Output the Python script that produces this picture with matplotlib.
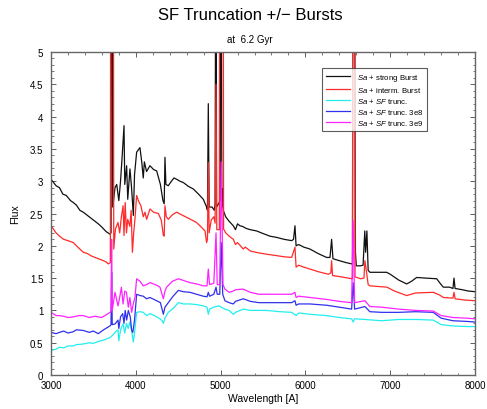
import numpy as np
import matplotlib
matplotlib.use('Agg')
import matplotlib.pyplot as plt
from matplotlib.ticker import MultipleLocator

plt.rcParams['font.family'] = ['Liberation Sans', 'DejaVu Sans']
plt.rcParams['mathtext.fontset'] = 'custom'
plt.rcParams['mathtext.it'] = 'Liberation Sans:italic'
plt.rcParams['mathtext.rm'] = 'Liberation Sans'

# Sa + strong Burst
black_wave = [3000, 3060, 3100, 3140, 3180, 3230, 3263, 3300, 3340, 3381, 3420, 3460, 3500, 3558, 3600,
              3650, 3696, 3708, 3712, 3722, 3728, 3755, 3775, 3800, 3820, 3840, 3861, 3870, 3892, 3905,
              3931, 3950, 3971, 3985, 4010, 4049, 4070, 4088, 4101, 4127, 4167, 4210, 4246, 4290, 4320,
              4335, 4344, 4355, 4383, 4420, 4450, 4482, 4520, 4560, 4620, 4678, 4740, 4796, 4835, 4845,
              4855, 4865, 4900, 4925, 4935, 4946, 4952, 4975, 4995, 5005, 5015, 5024, 5031, 5060, 5100,
              5150, 5175, 5200, 5228, 5260, 5300, 5350, 5425, 5500, 5580, 5661, 5750, 5838, 5860, 5877,
              5890, 5920, 5980, 6054, 6150, 6250, 6290, 6309, 6325, 6400, 6480, 6545, 6555, 6563, 6575,
              6590, 6600, 6650, 6680, 6700, 6710, 6725, 6740, 6761, 6850, 6958, 7000, 7100, 7194, 7250,
              7312, 7420, 7548, 7600, 7626, 7700, 7740, 7752, 7765, 7850, 7920, 8000]
black_flux = [3.03, 2.93, 2.90, 2.80, 2.78, 2.70, 2.67, 2.63, 2.55, 2.52, 2.48, 2.44, 2.40, 2.34, 2.29,
              2.22, 2.18, 2.20, 9.0, 9.0, 2.60, 2.90, 2.95, 2.70, 3.00, 3.40, 3.86, 2.95, 3.24, 2.72,
              3.19, 2.90, 2.47, 3.10, 3.45, 3.52, 3.30, 3.05, 3.30, 3.15, 3.24, 3.18, 3.16, 2.95, 2.70,
              2.65, 3.37, 2.95, 2.93, 3.00, 3.05, 3.03, 3.00, 2.98, 2.92, 2.88, 2.80, 2.72, 2.60, 2.55,
              4.20, 2.60, 2.60, 2.55, 2.65, 9.0, 2.60, 2.65, 2.70, 9.0, 2.60, 2.88, 2.55, 2.45, 2.38,
              2.31, 2.25, 2.34, 2.31, 2.30, 2.27, 2.25, 2.23, 2.19, 2.15, 2.13, 2.10, 2.08, 2.10, 2.31,
              2.00, 2.02, 1.98, 1.95, 1.88, 1.82, 1.82, 2.10, 1.80, 1.77, 1.74, 1.72, 1.72, 9.0, 9.0,
              1.90, 1.69, 1.69, 1.70, 2.23, 1.90, 2.23, 1.62, 1.59, 1.59, 1.59, 1.56, 1.47, 1.41, 1.45,
              1.51, 1.50, 1.49, 1.40, 1.36, 1.36, 1.34, 1.50, 1.34, 1.32, 1.30, 1.29]

# Sa + interm. Burst
red_wave = [3000, 3060, 3100, 3150, 3200, 3263, 3300, 3340, 3381, 3430, 3480, 3520, 3558, 3600, 3650,
            3676, 3700, 3705, 3735, 3740, 3760, 3790, 3810, 3830, 3850, 3861, 3875, 3890, 3905, 3930,
            3945, 3960, 3975, 3990, 4010, 4030, 4060, 4088, 4108, 4128, 4167, 4210, 4266, 4300, 4325,
            4335, 4344, 4360, 4383, 4430, 4482, 4540, 4600, 4660, 4717, 4780, 4816, 4835, 4845, 4855,
            4865, 4890, 4920, 4935, 4946, 4955, 4985, 4990, 5030, 5035, 5060, 5100, 5150, 5175, 5200,
            5267, 5290, 5350, 5450, 5543, 5650, 5750, 5838, 5877, 5890, 5920, 5980, 6054, 6150, 6270,
            6300, 6309, 6320, 6420, 6545, 6555, 6560, 6580, 6585, 6650, 6690, 6702, 6720, 6740, 6761,
            6860, 6960, 7050, 7194, 7300, 7508, 7580, 7626, 7740, 7752, 7765, 7880, 8000]
red_flux = [2.31, 2.20, 2.15, 2.10, 2.08, 2.05, 2.00, 1.95, 1.90, 1.88, 1.84, 1.82, 1.80, 1.78, 1.75,
            1.72, 1.74, 9.0, 9.0, 1.95, 2.26, 2.36, 2.20, 2.45, 2.62, 2.16, 2.67, 2.20, 2.41, 2.30,
            2.55, 1.90, 2.20, 2.41, 2.78, 2.70, 2.62, 2.45, 2.52, 2.41, 2.57, 2.52, 2.50, 2.40, 2.16,
            2.15, 2.62, 2.45, 2.41, 2.48, 2.52, 2.48, 2.44, 2.40, 2.36, 2.28, 2.23, 2.05, 2.10, 3.29,
            2.20, 2.40, 2.45, 2.35, 4.50, 2.25, 2.25, 9.0, 9.0, 2.26, 2.20, 2.15, 2.10, 2.02, 2.05,
            1.95, 1.98, 1.92, 1.89, 1.87, 1.85, 1.83, 1.82, 1.98, 1.67, 1.70, 1.67, 1.64, 1.60, 1.56,
            1.58, 1.77, 1.54, 1.52, 1.49, 1.49, 9.0, 9.0, 1.52, 1.49, 1.50, 1.77, 1.60, 1.40, 1.38,
            1.37, 1.36, 1.30, 1.23, 1.27, 1.28, 1.24, 1.20, 1.19, 1.28, 1.18, 1.16, 1.15]

# Sa + SF trunc.
cyan_wave = [3000, 3060, 3100, 3150, 3200, 3263, 3300, 3381, 3450, 3500, 3558, 3620, 3696, 3730, 3755,
             3790, 3800, 3820, 3850, 3870, 3890, 3910, 3930, 3950, 3970, 3985, 4010, 4050, 4088, 4127,
             4167, 4220, 4285, 4310, 4325, 4344, 4383, 4440, 4502, 4560, 4639, 4717, 4796, 4840, 4855,
             4870, 4920, 4946, 4980, 5050, 5100, 5150, 5175, 5267, 5350, 5450, 5543, 5700, 5838, 5890,
             5920, 6054, 6250, 6400, 6545, 6563, 6580, 6700, 6900, 7100, 7300, 7508, 7600, 7740, 7900,
             8000]
cyan_flux = [0.38, 0.40, 0.43, 0.42, 0.45, 0.45, 0.47, 0.48, 0.50, 0.49, 0.52, 0.54, 0.58, 0.62, 0.66,
             0.70, 0.53, 0.70, 0.79, 0.65, 0.80, 0.72, 0.82, 0.70, 0.51, 0.65, 0.97, 0.98, 0.97, 0.92,
             0.95, 0.92, 0.87, 0.84, 0.80, 0.88, 0.97, 1.03, 1.12, 1.10, 1.10, 1.09, 1.07, 1.05, 0.94,
             1.02, 1.05, 1.06, 1.07, 1.02, 1.00, 0.94, 0.97, 1.02, 1.00, 1.00, 1.00, 0.98, 0.97, 0.92,
             0.96, 0.94, 0.92, 0.89, 0.87, 0.82, 0.87, 0.86, 0.84, 0.86, 0.86, 0.85, 0.78, 0.76, 0.75,
             0.75]

# Sa + SF trunc. 3e8
blue_wave = [3000, 3060, 3100, 3150, 3200, 3263, 3300, 3381, 3450, 3500, 3558, 3620, 3696, 3708, 3715,
             3722, 3755, 3790, 3800, 3820, 3845, 3861, 3875, 3892, 3912, 3935, 3951, 3965, 3985, 4010,
             4050, 4088, 4127, 4167, 4230, 4290, 4325, 4344, 4383, 4440, 4502, 4560, 4639, 4717, 4796,
             4840, 4855, 4870, 4920, 4946, 4960, 4990, 5007, 5025, 5051, 5100, 5150, 5175, 5267, 5350,
             5450, 5543, 5700, 5838, 5877, 5890, 5920, 6054, 6250, 6400, 6545, 6563, 6580, 6702, 6760,
             6900, 7100, 7300, 7508, 7600, 7740, 7900, 8000]
blue_flux = [0.66, 0.64, 0.66, 0.68, 0.65, 0.67, 0.70, 0.69, 0.66, 0.68, 0.64, 0.70, 0.76, 0.78, 1.59,
             0.78, 0.79, 0.85, 0.72, 0.90, 0.95, 0.80, 1.00, 0.85, 1.00, 0.90, 0.69, 0.66, 0.85, 1.25,
             1.23, 1.22, 1.18, 1.20, 1.16, 1.12, 0.94, 1.05, 1.12, 1.22, 1.31, 1.29, 1.28, 1.25, 1.22,
             1.21, 1.28, 1.22, 1.25, 1.36, 1.25, 1.25, 2.05, 1.25, 1.15, 1.12, 1.10, 1.14, 1.18, 1.14,
             1.12, 1.12, 1.12, 1.12, 1.15, 1.08, 1.10, 1.10, 1.08, 1.05, 1.02, 1.43, 1.02, 1.06, 0.98,
             0.97, 0.97, 0.98, 0.97, 0.88, 0.84, 0.83, 0.82]

# Sa + SF trunc. 3e9
magenta_wave = [3000, 3060, 3094, 3150, 3200, 3263, 3330, 3381, 3450, 3520, 3597, 3650, 3696, 3708, 3715,
                3722, 3755, 3790, 3810, 3830, 3850, 3870, 3890, 3912, 3930, 3951, 3970, 3990, 4010, 4050,
                4088, 4127, 4167, 4230, 4285, 4325, 4344, 4364, 4430, 4502, 4570, 4639, 4717, 4796, 4840,
                4855, 4870, 4920, 4946, 4960, 4990, 5008, 5028, 5051, 5100, 5150, 5175, 5267, 5350, 5450,
                5543, 5700, 5838, 5877, 5890, 5920, 6054, 6250, 6400, 6545, 6563, 6580, 6702, 6760, 6900,
                7100, 7300, 7508, 7600, 7740, 7900, 8000]
magenta_flux = [0.97, 0.92, 0.92, 0.91, 0.89, 0.90, 0.92, 0.92, 0.89, 0.91, 0.89, 0.93, 0.97, 0.98, 2.10,
                1.00, 1.28, 1.07, 1.20, 1.36, 1.10, 1.30, 1.28, 1.05, 1.20, 0.97, 1.10, 1.20, 1.49, 1.45,
                1.38, 1.40, 1.43, 1.40, 1.36, 1.18, 1.30, 1.36, 1.45, 1.49, 1.46, 1.43, 1.41, 1.38, 1.38,
                1.64, 1.40, 1.42, 2.20, 1.40, 1.40, 3.30, 1.40, 1.33, 1.28, 1.30, 1.32, 1.33, 1.28, 1.25,
                1.25, 1.25, 1.25, 1.28, 1.20, 1.22, 1.20, 1.17, 1.14, 1.12, 2.39, 1.12, 1.15, 1.06, 1.05,
                1.02, 1.00, 0.99, 0.92, 0.89, 0.88, 0.87]

series = [
    (black_wave, black_flux, '#111111', r'$\it{Sa}$ + strong Burst'),
    (red_wave, red_flux, '#ff2a2a', r'$\it{Sa}$ + interm. Burst'),
    (cyan_wave, cyan_flux, '#22eeee', r'$\it{Sa}$ + $\it{SF}$ trunc.'),
    (blue_wave, blue_flux, '#3030ee', r'$\it{Sa}$ + $\it{SF}$ trunc. 3e8'),
    (magenta_wave, magenta_flux, '#ff22ff', r'$\it{Sa}$ + $\it{SF}$ trunc. 3e9'),
]

fig = plt.figure(figsize=(4.87, 4.10), dpi=100)
ax = fig.add_axes([0.1047, 0.0829, 0.8707, 0.7878])

for wave, flux, color, label in series:
    ax.plot(wave, flux, color=color, lw=0.9, label=label)

ax.set_xlim(3000, 8000)
ax.set_ylim(0, 5)
ax.xaxis.set_major_locator(MultipleLocator(1000))
ax.xaxis.set_minor_locator(MultipleLocator(200))
ax.yaxis.set_minor_locator(MultipleLocator(0.1))
ax.set_yticks(np.arange(0, 5.01, 0.5))
ax.set_yticklabels(['0', '0.5', '1', '1.5', '2', '2.5', '3', '3.5', '4', '4.5', '5'])
ax.tick_params(which='both', direction='in', top=True, right=True, labelsize=7, color='#444444')
ax.tick_params(which='major', length=3.5, width=0.6)
ax.tick_params(which='minor', length=1.8, width=0.5)
ax.tick_params(axis='x', pad=3.5)
ax.tick_params(axis='y', pad=5.5)
for sp in ax.spines.values():
    sp.set_color('#666666')
    sp.set_linewidth(1.0)

ax.set_xlabel('Wavelength [A]', fontsize=7.5, labelpad=2)
ax.set_ylabel('Flux', fontsize=7.5, labelpad=7)

fig.text(0.513, 0.963, 'SF Truncation +/\u2212 Bursts', ha='center', va='center', fontsize=12)
fig.text(0.513, 0.902, 'at  6.2 Gyr', ha='center', va='center', fontsize=7)

leg = ax.legend(loc='upper right', bbox_to_anchor=(0.887, 0.95), fontsize=5.6, frameon=True,
                fancybox=False, handlelength=3.2, handletextpad=0.8, borderpad=0.5,
                labelspacing=0.25, borderaxespad=0)
leg.get_frame().set_edgecolor('#333333')
leg.get_frame().set_linewidth(0.8)

fig.savefig('out.png', dpi=100)
